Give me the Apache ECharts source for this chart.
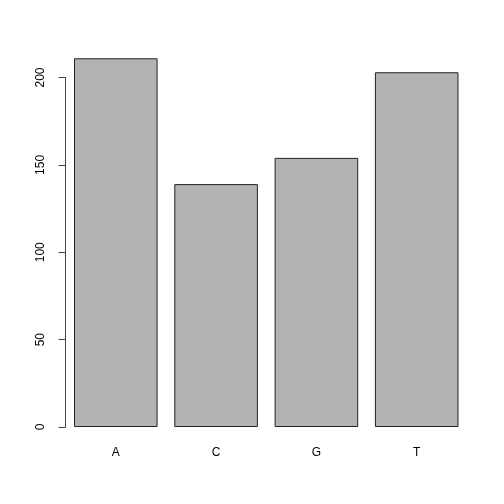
<!DOCTYPE html>
<html><head><meta charset="utf-8">
<script src="https://cdn.jsdelivr.net/npm/echarts@6/dist/echarts.min.js"></script>
<style>html,body{margin:0;padding:0;background:#fff}#c{width:504px;height:504px}</style>
</head><body><div id="c"></div>
<script>
const categories = ['A', 'C', 'G', 'T'];
const counts = [211, 139, 154, 203];
const yTicks = [0, 50, 100, 150, 200];

const chart = echarts.init(document.getElementById('c'), null, {renderer: 'canvas'});
chart.setOption({
  animation: false,
  backgroundColor: '#fff',
  grid: {left: 65.65, right: 37.15, top: 77.5, bottom: 504 - 427, containLabel: false},
  xAxis: {
    type: 'category',
    data: categories,
    axisLine: {show: false},
    axisTick: {show: false},
    axisLabel: {color: '#000', fontSize: 12, fontFamily: 'Liberation Sans, Arial, sans-serif', margin: 20}
  },
  yAxis: {
    type: 'value',
    min: yTicks[0], max: yTicks[yTicks.length - 1], interval: 50,
    splitLine: {show: false},
    axisLine: {show: true, lineStyle: {color: '#444', width: 1}},
    axisTick: {show: true, length: 7, lineStyle: {color: '#444', width: 1}},
    axisLabel: {color: '#000', fontSize: 12, rotate: 90, margin: 19, fontFamily: 'Liberation Sans, Arial, sans-serif'}
  },
  series: [{
    type: 'bar',
    data: counts,
    barWidth: '83.33%',
    clip: false,
    itemStyle: {color: '#B3B3B3', borderColor: '#222', borderWidth: 1}
  }]
});
</script></body></html>
